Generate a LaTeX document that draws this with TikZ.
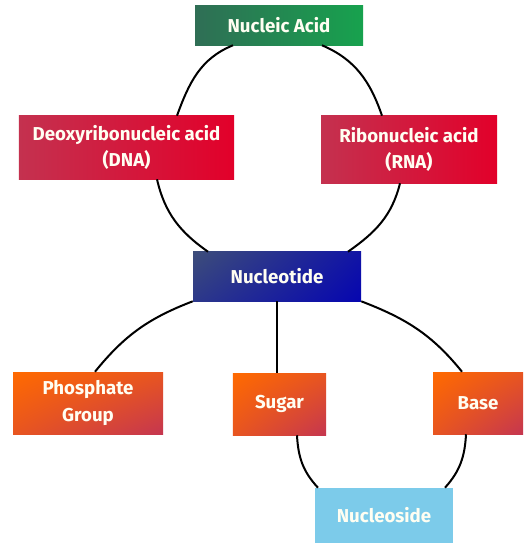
\documentclass[tikz,border=0pt]{standalone}
\usepackage{fontspec}
\setmainfont{Fira Sans}
\usetikzlibrary{positioning,calc,shadings}
\definecolor{grnA}{HTML}{2F6E55}
\definecolor{grnB}{HTML}{17A24E}
\definecolor{redA}{HTML}{C4314F}
\definecolor{redB}{HTML}{E2002A}
\definecolor{bluA}{HTML}{3D4D7A}
\definecolor{bluB}{HTML}{0606B0}
\definecolor{orgA}{HTML}{FF6A00}
\definecolor{orgB}{HTML}{C53650}
\definecolor{skyA}{HTML}{7CCBEA}
\tikzset{
  link/.style    = {line width=1.5pt, black},
  cbox/.style    = {inner sep=1pt, align=center, text=white!95!yellow,
                    font=\fontsize{14}{20}\selectfont\bfseries},
  nabox/.style   = {cbox, left color=grnA, right color=grnB},
  acidbox/.style = {cbox, left color=redA, right color=redB},
  ntbox/.style   = {cbox, upper left=bluA, lower right=bluB,
                    upper right=bluB!80!bluA, lower left=bluA!70!bluB},
  partbox/.style = {cbox, upper left=orgA, lower right=orgB,
                    upper right=orgA!60!orgB, lower left=orgA!60!orgB},
  nsbox/.style   = {cbox, fill=skyA},
}

\begin{document}
\begin{tikzpicture}[x=0.75pt, y=0.75pt]
  \useasboundingbox[fill=white] (0,0) rectangle (525,-543);
  % top ring: nucleic acid and its two kinds
  \node[nabox, minimum width=126pt, minimum height=29.3pt] (na) at (279,-25.5) {Nucleic Acid};
  \node[acidbox, minimum width=161.3pt, minimum height=47.3pt] (dna) at (126.5,-147.5)
    {Deoxyribonucleic acid\\(DNA)};
  \node[acidbox, minimum width=132pt, minimum height=50.3pt] (rna) at (409,-149.5)
    {Ribonucleic acid\\(RNA)};
  \node[ntbox, minimum width=126pt, minimum height=36.8pt] (nt) at (277,-276.5) {Nucleotide};
  \draw[link] ($(na.south)+(-46,0)$) to[out=202, in=70] ($(dna.north)+(50.5,0)$);
  \draw[link] ($(dna.south)+(30.5,0)$) to[out=283, in=145] ($(nt.north)+(-69,0)$);
  \draw[link] ($(nt.north)+(71,0)$) to[out=35, in=256] ($(rna.south)+(-9,0)$);
  \draw[link] ($(rna.north)+(-27,0)$) to[out=109, in=337] ($(na.south)+(43,0)$);
  % lower part: the three parts of a nucleotide
  \node[partbox, minimum width=112.5pt, minimum height=46.5pt] (ph) at (88,-403)
    {Phosphate\\Group};
  \node[partbox, minimum width=69.8pt, minimum height=46.5pt] (sg) at (279.5,-404) {Sugar};
  \node[partbox, minimum width=67.5pt, minimum height=46.5pt] (bs) at (478,-403) {Base};
  \node[nsbox, minimum width=103.5pt, minimum height=41.3pt] (ns) at (384,-515.5) {Nucleoside};
  \draw[link] (nt.south west) to[out=201, in=51] ($(ph.north)+(7,0)$);
  \draw[link] (nt.south) -- (nt.south |- sg.north);
  \draw[link] (nt.south east) to[out=339, in=129] ($(bs.north)+(-16,0)$);
  \draw[link] ($(sg.south)+(17.5,0)$) to[out=273, in=133] ($(ns.north)+(-66,0)$);
  \draw[link] ($(ns.north)+(61,0)$) to[out=48, in=267] ($(bs.south)+(-12,0)$);
\end{tikzpicture}
\end{document}
